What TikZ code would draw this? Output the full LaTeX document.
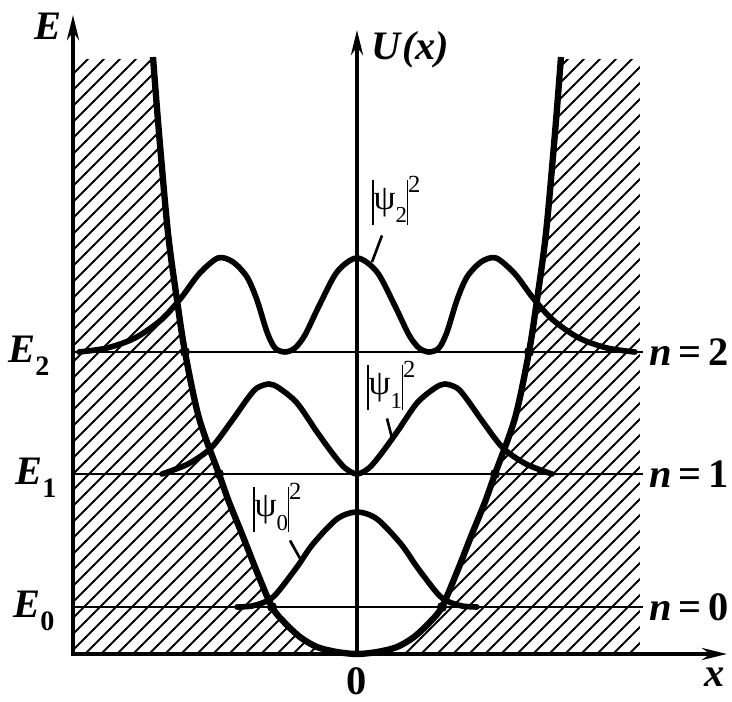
\documentclass[tikz,border=0pt]{standalone}
\usepackage{fontspec}
\setmainfont{Liberation Serif}
\usetikzlibrary{arrows.meta, positioning}

\newcommand{\absbar}{\rule[-0.43em]{0.7pt}{1.29em}}
\newcommand{\psisq}[1]{\absbar ψ\raisebox{-0.37em}{\fontsize{13}{13}\selectfont #1}\absbar\raisebox{0.51em}{\fontsize{14}{14}\selectfont 2}}

\begin{document}
\begin{tikzpicture}[
  x=0.2mm, y=0.2mm,
  >={Stealth[length=5mm, width=2.4mm]},
  axis/.style={line width=2.6pt, line join=miter},
  level/.style={line width=1.2pt},
  potential/.style={line width=3.6pt, line join=round},
  wave/.style={line width=3.2pt, line join=round, line cap=round},
  hatchline/.style={line width=1.1pt},
  pointer/.style={line width=1.5pt},
  lbl/.style={font=\fontsize{23}{26}\selectfont\bfseries\itshape, inner sep=0pt},
  psilbl/.style={font=\fontsize{20}{24}\selectfont, inner sep=0pt, anchor=base west},
]
\useasboundingbox (-357,-48) rectangle (375,654);
% Hatching of the forbidden region
\begin{scope}
  \clip (-284,0) rectangle (283,594);
  \foreach \c in {-880,-864,...,290}
    \draw[hatchline] (\c,0) -- ++(600,600);
\end{scope}
% Potential U(x)
\draw[potential, fill=white] plot[smooth] coordinates {
  (-204,597) (-198,521) (-189,421) (-180,354) (-172,302) (-158,236)
  (-138,180) (-128,152) (-115,120) (-100,82) (-85,47) (-73,32)
  (-57,17) (-40,7) (-20,2) (0,0) (20,2) (40,7) (57,17) (73,32)
  (85,47) (100,82) (115,120) (128,152) (138,180) (158,236) (172,302)
  (180,354) (189,421) (198,521) (204,597)};
% Levels
\foreach \Y/\n/\ex in {302/2/-349, 180/1/-342, 47/0/-344}{
  \draw[level] (-284,\Y) -- (286,\Y);
  \node[lbl, anchor=base west] (n\n) at (292,\Y-14) {n\,{\upshape=\,\n}};
  \node[lbl, anchor=base west] (E\n) at (\ex,\Y-11)
    {E\raisebox{-7pt}{\fontsize{16}{16}\selectfont\upshape\n}};
}
% Axes
\coordinate (O) at (0,0);
\coordinate (corner) at (-284,0);
\coordinate (Etip) at (-284,639);
\coordinate (Utip) at (0,624);
\coordinate (xtip) at (370,0);
\draw[axis, <->] (Etip) -- (corner) -- (xtip);
\draw[axis, ->] (O) -- (Utip);
\node[lbl, left=2.2mm of Etip, yshift=-2.3mm] (Elab) {E};
\node[lbl, right=2.8mm of Utip, yshift=-4mm] (Ulab) {U\kern1pt(x)};
\node[lbl, below=2.8mm of xtip, xshift=-2.4mm] (xlab) {x};
\node[lbl, below=2.6mm of O] (zero) {\upshape 0};
% Probability densities
\begin{scope}[shift={(0,302)}]
  \draw[wave] plot[smooth] coordinates {
    (-278,0) (-250,4) (-222,14) (-196,32) (-176,54) (-158,78) (-139,94)
    (-124,90) (-110,75) (-100,52) (-90,20) (-82,4) (-72,0) (-62,4)
    (-52,17) (-38,46) (-20,80) (0,94) (20,80) (38,46) (52,17) (62,4)
    (72,0) (82,4) (90,20) (100,52) (110,75) (124,90) (139,94) (158,78)
    (176,54) (196,32) (222,14) (250,4) (278,0)};
\end{scope}
\begin{scope}[shift={(0,180)}]
  \draw[wave] plot[smooth] coordinates {
    (-195,0) (-169,10) (-146,26) (-126,52) (-109,76) (-100,86) (-88,90)
    (-78,86) (-60,71) (-40,42) (-24,20) (-12,6) (0,0) (12,6) (24,20)
    (40,42) (60,71) (78,86) (88,90) (100,86) (109,76) (126,52) (146,26)
    (169,10) (195,0)};
\end{scope}
\begin{scope}[shift={(0,47)}]
  \draw[wave] plot[smooth] coordinates {
    (-120,0) (-105,1) (-90,6) (-80,14) (-60,40) (-44,63) (-20,88) (0,95)
    (20,88) (44,63) (60,40) (80,14) (90,6) (105,1) (120,0)};
\end{scope}
% Turning points
\foreach \X/\Y in {172/302, 138/180, 85/47}{
  \fill (\X,\Y) circle[radius=1mm];
  \fill (-\X,\Y) circle[radius=1mm];
}
% Labels of the densities
\node[psilbl] (psi2) at (15,444) {\psisq{2}};
\node[psilbl] (psi1) at (10,259) {\psisq{1}};
\node[psilbl] (psi0) at (-104,137) {\psisq{0}};
\coordinate (c2) at (15,392);
\coordinate (c1) at (35,216);
\coordinate (c0) at (-55,92);
\draw[pointer] ([shift={(10,-10)}]psi2.south west) -- (c2);
\draw[pointer] ([shift={(20,-8)}]psi1.south west) -- (c1);
\draw[pointer] ([shift={(37,-8)}]psi0.south west) -- (c0);
\end{tikzpicture}
\end{document}
